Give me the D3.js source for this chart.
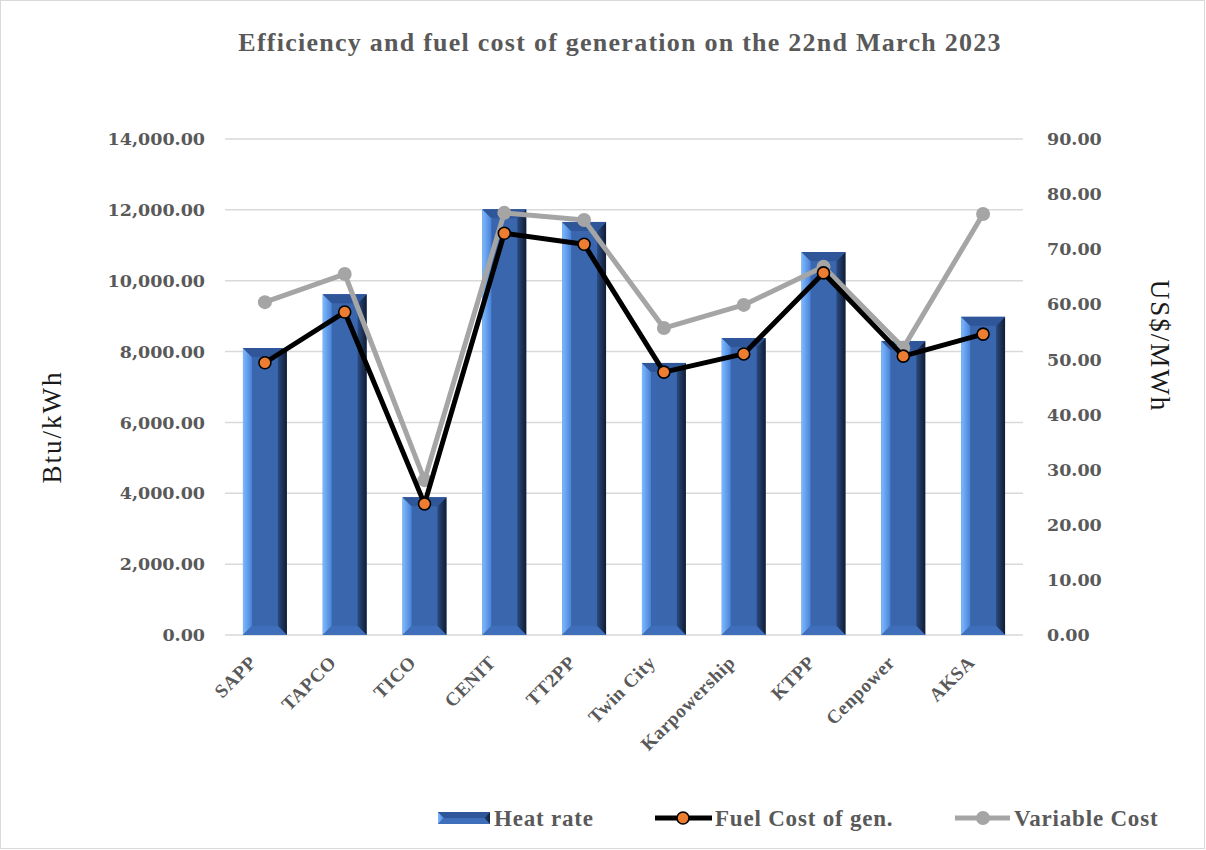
<!DOCTYPE html>
<html>
<head>
<meta charset="utf-8">
<script src="https://cdn.jsdelivr.net/npm/d3@7"></script>
<style>
  body { margin: 0; background: #fff; }
  svg text { font-family: "Liberation Serif", "DejaVu Serif", serif; }
  svg .num text { font-family: "DejaVu Serif", serif; }
</style>
</head>
<body>
<svg id="chart" width="1206" height="850"></svg>
<script>
// data
const plants = ["SAPP", "TAPCO", "TICO", "CENIT", "TT2PP", "Twin City", "Karpowership", "KTPP", "Cenpower", "AKSA"];
const heatRate = [8100, 9620, 3890, 12020, 11660, 7680, 8380, 10810, 8300, 8980];
const fuelCost = [49.4, 58.6, 23.8, 72.9, 70.9, 47.7, 51.0, 65.7, 50.6, 54.6];
const variableCost = [60.4, 65.5, 28.1, 76.6, 75.3, 55.7, 59.9, 66.8, 52.1, 76.4];
const leftTicks = [0, 2000, 4000, 6000, 8000, 10000, 12000, 14000];
const rightTicks = [0, 10, 20, 30, 40, 50, 60, 70, 80, 90];

const W = 1206, H = 850;
const margin = { top: 139, right: 183, bottom: 215, left: 225 };
const width = W - margin.left - margin.right;
const height = H - margin.top - margin.bottom;
const grey = "#595959";

const svg = d3.select("#chart");

// outer border
svg.append("rect")
  .attr("x", 0.5).attr("y", 0.5)
  .attr("width", W - 2).attr("height", H - 2)
  .attr("fill", "#fff").attr("stroke", "#d9d9d9");

// gradients for the bevelled bars
const defs = svg.append("defs");
const lg = defs.append("linearGradient").attr("id", "bevelLeft");
lg.append("stop").attr("offset", "0%").attr("stop-color", "#7dbaff");
lg.append("stop").attr("offset", "100%").attr("stop-color", "#4a82d6");
const rg = defs.append("linearGradient").attr("id", "bevelRight");
rg.append("stop").attr("offset", "0%").attr("stop-color", "#2a4a80");
rg.append("stop").attr("offset", "100%").attr("stop-color", "#111c33");

const g = svg.append("g").attr("transform", `translate(${margin.left},${margin.top})`);

const x = d3.scaleBand().domain(plants).range([0, width]).paddingInner(0.45).paddingOuter(0.225);
const yL = d3.scaleLinear().domain([0, 14000]).range([height, 0]);
const yR = d3.scaleLinear().domain([0, 90]).range([height, 0]);

// gridlines
g.append("g")
  .selectAll("line")
  .data(leftTicks)
  .join("line")
  .attr("x1", 0).attr("x2", width)
  .attr("y1", d => yL(d)).attr("y2", d => yL(d))
  .attr("stroke", "#d9d9d9").attr("stroke-width", 1.5);

// left axis
const axL = g.append("g").attr("class", "num")
  .call(d3.axisLeft(yL).tickValues(leftTicks).tickFormat(d3.format(",.2f")).tickSize(0).tickPadding(20));
axL.select(".domain").remove();
axL.selectAll("text")
  .attr("fill", grey).attr("font-size", 17.5).attr("font-weight", "bold");

// right axis
const axR = g.append("g").attr("class", "num")
  .attr("transform", `translate(${width},0)`)
  .call(d3.axisRight(yR).tickValues(rightTicks).tickFormat(d3.format(".2f")).tickSize(0).tickPadding(24));
axR.select(".domain").remove();
axR.selectAll("text")
  .attr("fill", grey).attr("font-size", 17.5).attr("font-weight", "bold");

// bars with bevel
function drawBevelBar(sel, x0, y0, w, h, b) {
  const bh = Math.min(b, h / 2);
  sel.append("rect").attr("x", x0).attr("y", y0).attr("width", w).attr("height", h).attr("fill", "#3a66ad");
  sel.append("polygon")
    .attr("points", [[x0, y0], [x0 + b, y0 + bh], [x0 + b, y0 + h - bh], [x0, y0 + h]].join(" "))
    .attr("fill", "url(#bevelLeft)");
  sel.append("polygon")
    .attr("points", [[x0 + w, y0], [x0 + w - b, y0 + bh], [x0 + w - b, y0 + h - bh], [x0 + w, y0 + h]].join(" "))
    .attr("fill", "url(#bevelRight)");
  sel.append("polygon")
    .attr("points", [[x0, y0], [x0 + w, y0], [x0 + w - b, y0 + bh], [x0 + b, y0 + bh]].join(" "))
    .attr("fill", "#30569a");
  sel.append("polygon")
    .attr("points", [[x0, y0 + h], [x0 + w, y0 + h], [x0 + w - b, y0 + h - bh], [x0 + b, y0 + h - bh]].join(" "))
    .attr("fill", "#3f6fba");
}

const bars = g.append("g");
plants.forEach((p, i) => {
  drawBevelBar(bars.append("g"), x(p), yL(heatRate[i]), x.bandwidth(), height - yL(heatRate[i]), 9);
});

const cx = d => x(d) + x.bandwidth() / 2;
const line = d3.line().x((d, i) => cx(plants[i])).y(d => yR(d));

// variable cost line
g.append("path").datum(variableCost)
  .attr("d", line).attr("fill", "none")
  .attr("stroke", "#a5a5a5").attr("stroke-width", 5).attr("stroke-linejoin", "round");
g.append("g").selectAll("circle").data(variableCost).join("circle")
  .attr("cx", (d, i) => cx(plants[i])).attr("cy", d => yR(d)).attr("r", 7)
  .attr("fill", "#a5a5a5");

// fuel cost line
g.append("path").datum(fuelCost)
  .attr("d", line).attr("fill", "none")
  .attr("stroke", "#000").attr("stroke-width", 5).attr("stroke-linejoin", "round");
g.append("g").selectAll("circle").data(fuelCost).join("circle")
  .attr("cx", (d, i) => cx(plants[i])).attr("cy", d => yR(d)).attr("r", 6)
  .attr("fill", "#ed7d31").attr("stroke", "#000").attr("stroke-width", 1.6);

// x labels
g.append("g").selectAll("text").data(plants).join("text")
  .attr("transform", d => `translate(${cx(d) - 12},${height + 24}) rotate(-45)`)
  .attr("text-anchor", "end")
  .attr("dy", "0.35em")
  .attr("fill", grey).attr("font-size", 19).attr("font-weight", "bold")
  .attr("letter-spacing", 0.6)
  .text(d => d);

// title
svg.append("text")
  .attr("x", 620).attr("y", 51)
  .attr("text-anchor", "middle")
  .attr("fill", grey).attr("font-size", 26).attr("font-weight", "bold")
  .attr("letter-spacing", 1.25)
  .text("Efficiency and fuel cost of generation on the 22nd March 2023");

// axis titles
svg.append("text")
  .attr("transform", "translate(61,427) rotate(-90)")
  .attr("text-anchor", "middle")
  .attr("fill", "#1a1a1a").attr("font-size", 27).attr("letter-spacing", 2)
  .text("Btu/kWh");
svg.append("text")
  .attr("transform", "translate(1151,346) rotate(90)")
  .attr("text-anchor", "middle")
  .attr("fill", "#1a1a1a").attr("font-size", 27).attr("letter-spacing", 2)
  .text("US$/MWh");

// legend
const leg = svg.append("g");
drawBevelBar(leg.append("g"), 438, 812, 52, 12, 6);
leg.append("text").attr("x", 494).attr("y", 826)
  .attr("fill", grey).attr("font-size", 23).attr("font-weight", "bold")
  .attr("letter-spacing", 0.8).text("Heat rate");

leg.append("line").attr("x1", 655).attr("x2", 712).attr("y1", 818).attr("y2", 818)
  .attr("stroke", "#000").attr("stroke-width", 5);
leg.append("circle").attr("cx", 683).attr("cy", 818).attr("r", 6)
  .attr("fill", "#ed7d31").attr("stroke", "#000").attr("stroke-width", 1.6);
leg.append("text").attr("x", 715).attr("y", 826)
  .attr("fill", grey).attr("font-size", 23).attr("font-weight", "bold")
  .attr("letter-spacing", 0.8).text("Fuel Cost of gen.");

leg.append("line").attr("x1", 955).attr("x2", 1010).attr("y1", 818).attr("y2", 818)
  .attr("stroke", "#a5a5a5").attr("stroke-width", 5);
leg.append("circle").attr("cx", 983).attr("cy", 818).attr("r", 7).attr("fill", "#a5a5a5");
leg.append("text").attr("x", 1014).attr("y", 826)
  .attr("fill", grey).attr("font-size", 23).attr("font-weight", "bold")
  .attr("letter-spacing", 0.8).text("Variable Cost");
</script>
</body>
</html>
